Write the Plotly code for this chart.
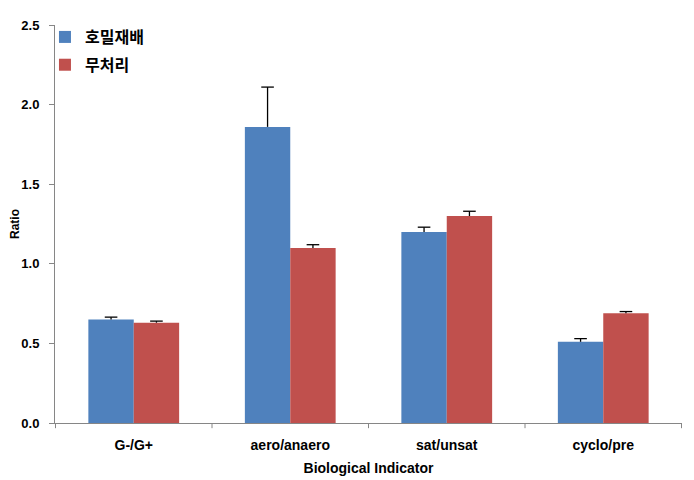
import plotly.graph_objects as go

categories = ["G-/G+", "aero/anaero", "sat/unsat", "cyclo/pre"]
series_names = ["호밀재배", "무처리"]
rye_values = [0.65, 1.86, 1.20, 0.51]
rye_errors = [0.015, 0.25, 0.03, 0.02]
ctrl_values = [0.63, 1.10, 1.30, 0.69]
ctrl_errors = [0.01, 0.02, 0.03, 0.01]
y_ticks = [0.0, 0.5, 1.0, 1.5, 2.0, 2.5]
y_tick_labels = ["0.0", "0.5", "1.0", "1.5", "2.0", "2.5"]

colors = ["#4F81BD", "#C0504D"]
latin = "Liberation Sans, Arial, sans-serif"
kfont = "Noto Sans CJK KR, sans-serif"

fig = go.Figure()
series = [(series_names[0], rye_values, rye_errors, colors[0], "g1"),
          (series_names[1], ctrl_values, ctrl_errors, colors[1], "g2")]
for name, vals, errs, col, grp in series:
    fig.add_trace(go.Bar(
        x=categories, y=vals, name=name, marker_color=col, marker_line_width=0,
        offsetgroup=grp, legendgroup=grp,
        error_y=dict(type="data", array=errs, arrayminus=[0] * len(errs), symmetric=False,
                     color="black", thickness=1.3, width=0),
    ))
for name, vals, errs, col, grp in series:
    fig.add_trace(go.Scatter(
        x=categories, y=[v + e for v, e in zip(vals, errs)], mode="markers",
        offsetgroup=grp, legendgroup=grp, showlegend=False, hoverinfo="skip",
        marker=dict(symbol="line-ew-open", size=9, color="black", line=dict(width=1.3, color="black")),
    ))

fig.update_layout(
    width=686, height=472,
    margin=dict(l=47, r=12, t=15, b=57),
    paper_bgcolor="white", plot_bgcolor="white",
    barmode="group", bargap=0.42, bargroupgap=0,
    scattermode="group", scattergap=0.42,
    showlegend=True,
    legend=dict(x=-0.016, y=1.0125, xanchor="left", yanchor="top",
                font=dict(family=kfont, size=16, color="black", weight="bold"),
                bgcolor="rgba(0,0,0,0)", tracegroupgap=4, itemwidth=30),
    font=dict(family=latin, color="black"),
)
fig.update_xaxes(
    automargin=False,
    showline=True, linecolor="#868686", linewidth=1,
    ticks="", ticklabelstandoff=9,
    tickfont=dict(family=latin, size=14, color="black", weight="bold"),
    title=dict(text="<b>Biological Indicator</b>", font=dict(family=latin, size=14, color="black"), standoff=11),
    showgrid=False,
)
fig.update_yaxes(
    automargin=False,
    range=[0, 2.5], tickvals=y_ticks, ticktext=y_tick_labels,
    showline=True, linecolor="#868686", linewidth=1,
    ticks="outside", ticklen=5, tickcolor="#868686", ticklabelstandoff=7,
    tickfont=dict(family=latin, size=13, color="black", weight="bold"),
    title=dict(text="<b>Ratio</b>", font=dict(family=latin, size=12, color="black"), standoff=0),
    showgrid=False, zeroline=False,
)

# category separator ticks along the x axis
for i in range(len(categories) + 1):
    fig.add_shape(type="line", xref="x", yref="paper", x0=i - 0.5, x1=i - 0.5, y0=0, y1=-0.013,
                  line=dict(color="#868686", width=1))

fig.write_html("out.html")
